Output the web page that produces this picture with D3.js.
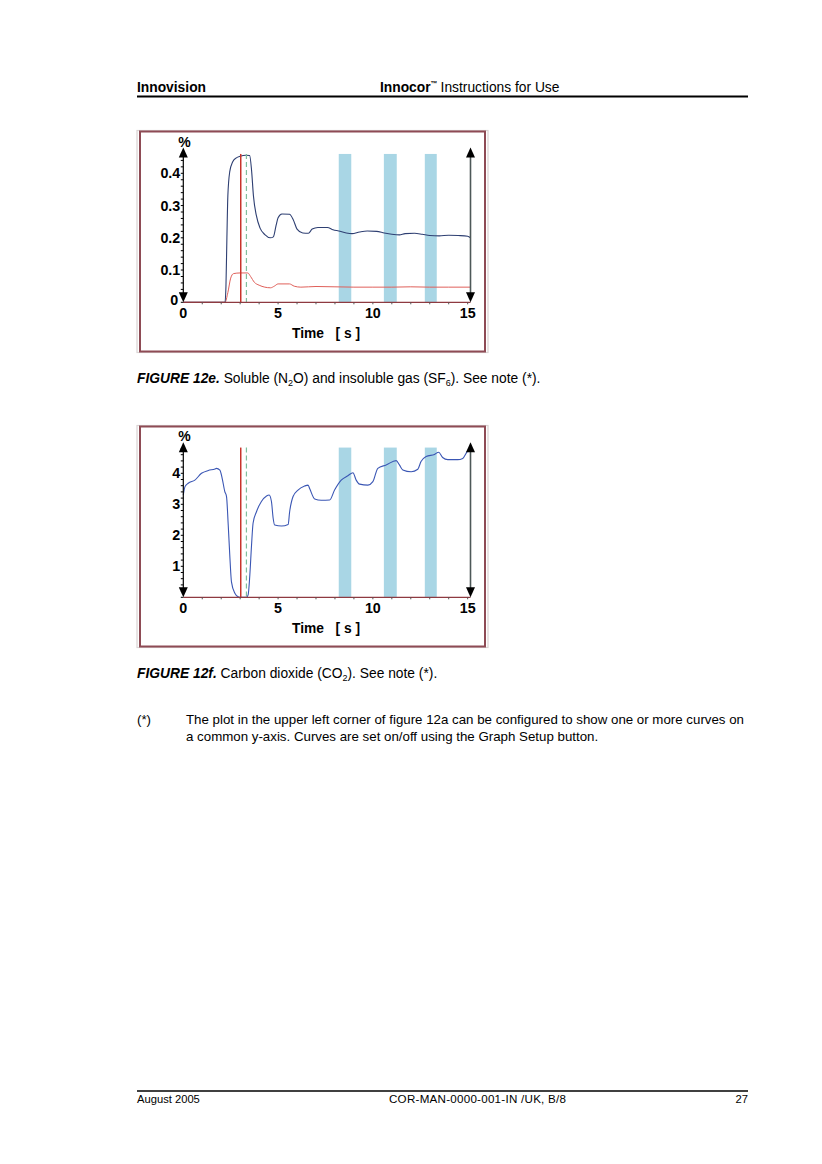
<!DOCTYPE html>
<html><head><meta charset="utf-8">
<script src="https://cdn.jsdelivr.net/npm/d3@7"></script>
<style>
html,body{margin:0;padding:0;background:#fff;}
svg{display:block;font-family:"Liberation Sans",Arial,sans-serif;}
</style></head>
<body>
<svg id="page" width="822" height="1164"></svg>
<script>
// ---------- data ----------
const xTicks = [0, 5, 10, 15];
const bandStarts = [8.2, 10.58, 12.74];
const bandEnds = [8.86, 11.26, 13.37];
const redMarkerT = 3.03;
const greenMarkerT = 3.33;

// Figure 12e: N2O (soluble, blue) and SF6 (insoluble, red)
const yTicksE = [0.1, 0.2, 0.3, 0.4];
const n2oT = [0, 2.2, 2.25, 2.3, 2.35, 2.45, 2.6, 2.8, 3.0, 3.3, 3.5, 3.6, 3.7, 3.85, 4.05, 4.3, 4.6, 4.75, 4.9, 5.0, 5.2, 5.6, 5.8, 6.0, 6.3, 6.6, 6.8, 7.1, 7.6, 7.9, 8.2, 8.6, 8.9, 9.3, 9.7, 10.2, 10.6, 11.0, 11.4, 11.7, 12.2, 12.6, 13.0, 13.5, 14.0, 14.5, 15.0, 15.15];
const n2oV = [0, 0, 0.05, 0.2, 0.33, 0.405, 0.435, 0.448, 0.453, 0.456, 0.455, 0.41, 0.33, 0.27, 0.23, 0.21, 0.2, 0.203, 0.24, 0.262, 0.274, 0.273, 0.256, 0.227, 0.215, 0.214, 0.227, 0.232, 0.232, 0.225, 0.221, 0.215, 0.213, 0.218, 0.221, 0.22, 0.215, 0.211, 0.209, 0.213, 0.214, 0.211, 0.207, 0.206, 0.208, 0.207, 0.205, 0.2];
const sf6T = [0, 2.2, 2.35, 2.5, 2.65, 3.0, 3.4, 3.55, 3.75, 4.0, 4.3, 4.6, 4.8, 5.0, 5.6, 5.85, 6.2, 7.0, 8.0, 9.0, 10.0, 11.0, 12.0, 13.0, 14.0, 15.15];
const sf6V = [0, 0, 0.03, 0.075, 0.089, 0.091, 0.091, 0.08, 0.062, 0.053, 0.047, 0.045, 0.05, 0.057, 0.057, 0.05, 0.047, 0.049, 0.048, 0.047, 0.047, 0.047, 0.048, 0.047, 0.047, 0.047];

// Figure 12f: CO2
const yTicksF = [1, 2, 3, 4];
const co2T = [0, 0.09, 0.26, 0.61, 0.96, 1.32, 1.67, 1.75, 1.93, 2.05, 2.19, 2.28, 2.37, 2.46, 2.54, 2.72, 2.89, 3.03, 3.33, 3.42, 3.51, 3.6, 3.68, 3.86, 4.12, 4.39, 4.53, 4.65, 4.74, 4.82, 5.18, 5.53, 5.61, 5.79, 6.05, 6.4, 6.58, 6.67, 6.93, 7.28, 7.72, 7.98, 8.33, 8.68, 8.95, 9.12, 9.3, 9.74, 10.0, 10.26, 10.7, 11.23, 11.4, 11.58, 12.02, 12.37, 12.54, 12.81, 13.25, 13.47, 13.68, 13.95, 14.47, 14.74, 15.0, 15.09];
const co2V = [3.3, 3.57, 3.68, 3.78, 4.0, 4.09, 4.14, 4.16, 4.1, 3.84, 3.41, 3.25, 2.33, 1.26, 0.5, 0.13, 0.02, 0, 0, 0.08, 0.72, 1.69, 2.39, 2.76, 3.09, 3.27, 3.3, 3.09, 2.55, 2.33, 2.3, 2.35, 2.76, 3.25, 3.46, 3.59, 3.62, 3.5, 3.17, 3.13, 3.14, 3.46, 3.78, 3.92, 4.02, 3.78, 3.65, 3.62, 3.73, 4.16, 4.27, 4.41, 4.27, 4.11, 4.05, 4.13, 4.38, 4.54, 4.61, 4.68, 4.51, 4.44, 4.44, 4.48, 4.72, 4.76];

// ---------- drawing ----------
const svg = d3.select("#page");

// Header
svg.append("text").attr("x", 137).attr("y", 91.5).attr("font-size", 13.8).attr("font-weight", "bold").text("Innovision");
const hdr = svg.append("text").attr("x", 380).attr("y", 91.5).attr("font-size", 13.8);
hdr.append("tspan").attr("font-weight", "bold").text("Innocor");
hdr.append("tspan").attr("font-size", 7).attr("dy", -6).attr("font-weight", "bold").text("™");
hdr.append("tspan").attr("dy", 6).attr("dx", 3).text("Instructions for Use");
svg.append("line").attr("x1", 137).attr("x2", 748).attr("y1", 96.5).attr("y2", 96.5).attr("stroke", "#000").attr("stroke-width", 2);

function drawChart(cfg) {
  const g = svg.append("g");
  // frame
  g.append("rect").attr("x", cfg.fx - 3).attr("y", cfg.fy - 1).attr("width", cfg.fw + 6).attr("height", cfg.fh + 2)
    .attr("fill", "none").attr("stroke", "#d9d3d3").attr("stroke-width", 1.2);
  g.append("rect").attr("x", cfg.fx).attr("y", cfg.fy).attr("width", cfg.fw).attr("height", cfg.fh)
    .attr("fill", "#fff").attr("stroke", "#8e4b55").attr("stroke-width", 2);

  const x = d3.scaleLinear().domain([0, 15.15]).range([183.3, 470.5]);
  const y = d3.scaleLinear().domain([0, cfg.yMax]).range([cfg.y0, cfg.yTop]);

  // bands
  g.selectAll(null).data(bandStarts).join("rect")
    .attr("x", (d) => x(d)).attr("width", (d, i) => x(bandEnds[i]) - x(d))
    .attr("y", y(cfg.bandTop)).attr("height", y(0) - y(cfg.bandTop))
    .attr("fill", "#a9d6e5");

  // curves
  cfg.series.forEach(s => {
    const pts = s.t.map((t, i) => [t, s.v[i]]);
    g.append("path").datum(pts)
      .attr("d", d3.line().x(d => x(d[0])).y(d => y(d[1])).curve(d3.curveMonotoneX))
      .attr("fill", "none").attr("stroke", s.color).attr("stroke-width", s.w);
  });

  // marker lines
  g.append("line").attr("x1", x(redMarkerT)).attr("x2", x(redMarkerT)).attr("y1", y(cfg.bandTop)).attr("y2", y(0))
    .attr("stroke", "#c8342c").attr("stroke-width", 1.5);
  g.append("line").attr("x1", x(greenMarkerT)).attr("x2", x(greenMarkerT)).attr("y1", y(cfg.bandTop)).attr("y2", y(0))
    .attr("stroke", "#7fbf9c").attr("stroke-width", 1.2).attr("stroke-dasharray", "5,3");

  // x axis
  g.append("line").attr("x1", x(0)).attr("x2", x(15.15)).attr("y1", y(0)).attr("y2", y(0))
    .attr("stroke", "#8e3a40").attr("stroke-width", 1.2);
  g.selectAll(null).data(d3.range(1, 16)).join("line")
    .attr("x1", d => x(d)).attr("x2", d => x(d)).attr("y1", y(0)).attr("y2", y(0) + 2)
    .attr("stroke", "#555").attr("stroke-width", 1);
  g.selectAll(null).data(xTicks).join("text")
    .attr("x", d => x(d)).attr("y", y(0) + 15.5).attr("text-anchor", "middle")
    .attr("font-size", 14.3).attr("font-weight", "bold").text(d => d);
  g.append("text").attr("x", 326).attr("y", y(0) + 36).attr("text-anchor", "middle")
    .attr("font-size", 13.8).attr("font-weight", "bold").attr("xml:space", "preserve").text("Time   [ s ]");

  // y axis
  const yAxisTop = cfg.yTop;
  g.append("line").attr("x1", x(0)).attr("x2", x(0)).attr("y1", yAxisTop + 4).attr("y2", y(0) - 4)
    .attr("stroke", "#000").attr("stroke-width", 1.2);
  g.selectAll(null).data(d3.range(0, cfg.yMax, cfg.minor)).join("line")
    .attr("x1", x(0) - 2.5).attr("x2", x(0)).attr("y1", d => y(d)).attr("y2", d => y(d))
    .attr("stroke", "#000").attr("stroke-width", 1);
  g.selectAll(null).data(cfg.yTicks).join("text")
    .attr("x", x(0) - 3).attr("y", d => y(d) + 5).attr("text-anchor", "end")
    .attr("font-size", 14.3).attr("font-weight", "bold").text(d => d);
  if (cfg.showZero) {
    g.append("text").attr("x", x(0) - 5).attr("y", y(0) + 3).attr("text-anchor", "end")
      .attr("font-size", 14.3).attr("font-weight", "bold").text("0");
  }
  g.append("text").attr("x", x(0) - 5).attr("y", yAxisTop - 1).attr("font-size", 14).attr("font-weight", "bold").text("%");

  // arrows
  const arrowUp = (ax, ay, c) => g.append("path").attr("d", `M${ax},${ay} l-4.5,10 l9,0 Z`).attr("fill", c);
  const arrowDown = (ax, ay, c) => g.append("path").attr("d", `M${ax},${ay} l-4.5,-10 l9,0 Z`).attr("fill", c);
  arrowUp(x(0), yAxisTop, "#000");
  arrowDown(x(0), y(0), "#000");
  // right cursor line
  g.append("line").attr("x1", x(15.15)).attr("x2", x(15.15)).attr("y1", yAxisTop + 4).attr("y2", y(0) - 4)
    .attr("stroke", "#4d5858").attr("stroke-width", 1.6);
  arrowUp(x(15.15), yAxisTop, "#000");
  arrowDown(x(15.15), y(0), "#000");
}

drawChart({
  fx: 140, fy: 131.5, fw: 345, fh: 220,
  yMax: 0.48, y0: 302.3, yTop: 147.5, bandTop: 0.46, minor: 0.02,
  yTicks: yTicksE, showZero: true,
  series: [
    {t: sf6T, v: sf6V, color: "#e0605a", w: 1},
    {t: n2oT, v: n2oV, color: "#2e3f72", w: 1.1}
  ]
});
drawChart({
  fx: 140, fy: 426.5, fw: 345, fh: 220,
  yMax: 5, y0: 597.3, yTop: 442.3, bandTop: 4.83, minor: 0.2,
  yTicks: yTicksF, showZero: false,
  series: [
    {t: co2T, v: co2V, color: "#3a56b4", w: 1.1}
  ]
});

// Captions
function caption(yPos, label, parts) {
  const t = svg.append("text").attr("x", 137).attr("y", yPos).attr("font-size", 13.8);
  t.append("tspan").attr("font-weight", "bold").attr("font-style", "italic").text(label);
  parts.forEach(p => {
    if (p.sub) t.append("tspan").attr("font-size", 9).attr("dy", 3).text(p.sub);
    else t.append("tspan").attr("dy", p.after ? -3 : 0).text(p.txt);
  });
}
caption(383, "FIGURE 12e.", [
  {txt: " Soluble (N"}, {sub: "2"}, {txt: "O) and insoluble gas (SF", after: true}, {sub: "6"}, {txt: "). See note (*).", after: true}
]);
caption(678, "FIGURE 12f.", [
  {txt: " Carbon dioxide (CO"}, {sub: "2"}, {txt: "). See note (*).", after: true}
]);

// Note
svg.append("text").attr("x", 137).attr("y", 724).attr("font-size", 13.3).text("(*)");
svg.append("text").attr("x", 186).attr("y", 724).attr("font-size", 13.3)
  .attr("textLength", 558).attr("lengthAdjust", "spacing")
  .text("The plot in the upper left corner of figure 12a can be configured to show one or more curves on");
svg.append("text").attr("x", 186).attr("y", 741).attr("font-size", 13.3)
  .text("a common y-axis. Curves are set on/off using the Graph Setup button.");

// Footer
svg.append("line").attr("x1", 137).attr("x2", 748).attr("y1", 1091).attr("y2", 1091).attr("stroke", "#000").attr("stroke-width", 1.5);
svg.append("text").attr("x", 137).attr("y", 1103).attr("font-size", 11.2).text("August 2005");
svg.append("text").attr("x", 389).attr("y", 1103).attr("font-size", 11.6)
  .attr("textLength", 177).attr("lengthAdjust", "spacing").text("COR-MAN-0000-001-IN /UK, B/8");
svg.append("text").attr("x", 748).attr("y", 1103).attr("font-size", 11.2).attr("text-anchor", "end").text("27");
</script>
</body></html>
